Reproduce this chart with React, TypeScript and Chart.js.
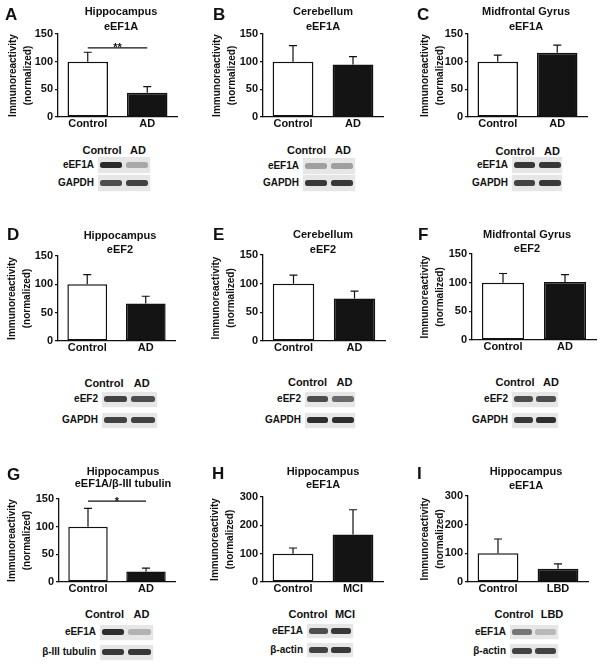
import React, { useEffect, useRef } from "react";
import { Chart, registerables } from "chart.js";

Chart.register(...registerables);

const FONT = "'Liberation Sans', Arial, Helvetica, sans-serif";
const INK = "#111111";

// ---------------- data ----------------
const panelLetters = ["A", "B", "C", "D", "E", "F", "G", "H", "I"];
const regionTitles = [
  "Hippocampus", "Cerebellum", "Midfrontal Gyrus",
  "Hippocampus", "Cerebellum", "Midfrontal Gyrus",
  "Hippocampus", "Hippocampus", "Hippocampus",
];
const markerTitles = [
  "eEF1A", "eEF1A", "eEF1A",
  "eEF2", "eEF2", "eEF2",
  "eEF1A/β-III tubulin", "eEF1A", "eEF1A",
];
const groupLabels = [
  ["Control", "AD"], ["Control", "AD"], ["Control", "AD"],
  ["Control", "AD"], ["Control", "AD"], ["Control", "AD"],
  ["Control", "AD"], ["Control", "MCI"], ["Control", "LBD"],
];
const meanValues = [
  [100, 44], [100, 95], [100, 116],
  [100, 66], [100, 74], [100, 101],
  [100, 19], [100, 168], [100, 46],
];
const errorValues = [
  [17, 11], [29, 14], [12, 14],
  [17, 13], [15, 13], [16, 13],
  [33, 6], [20, 87], [50, 17],
];
const yAxisMax = [150, 150, 150, 150, 150, 150, 150, 300, 300];
const yAxisStep = [50, 50, 50, 50, 50, 50, 50, 100, 100];
const yAxisTitle = ["Immunoreactivity", "(normalized)"];
const significanceMarks = ["**", "", "", "", "", "", "*", "", ""];
const significanceLevel = [125, 0, 0, 0, 0, 0, 146, 0, 0];
const blotRowLabels = [
  ["eEF1A", "GAPDH"], ["eEF1A", "GAPDH"], ["eEF1A", "GAPDH"],
  ["eEF2", "GAPDH"], ["eEF2", "GAPDH"], ["eEF2", "GAPDH"],
  ["eEF1A", "β-III tubulin"], ["eEF1A", "β-actin"], ["eEF1A", "β-actin"],
];
// band darkness [row][lane]
const blotBandDarkness = [
  [[0.92, 0.3], [0.75, 0.8]],
  [[0.35, 0.35], [0.85, 0.85]],
  [[0.85, 0.85], [0.8, 0.85]],
  [[0.8, 0.75], [0.8, 0.8]],
  [[0.75, 0.6], [0.9, 0.9]],
  [[0.75, 0.75], [0.85, 0.9]],
  [[0.9, 0.25], [0.85, 0.85]],
  [[0.75, 0.85], [0.8, 0.85]],
  [[0.55, 0.22], [0.8, 0.8]],
];

// ---------------- layout ----------------
type Layout = {
  col: number; row: number; w: number;
  axisX: number; axisTop: number; axisBottom: number; axisRight: number;
  titleX: number; titleY: number[]; letterX: number; letterY: number; yTitleX: number;
  blotLeft: number; blotRight: number; blotHeaderY: number; blotRows: number[]; blotHeaderX: number[]; stripH: number;
};
const layouts: Layout[] = [
  { col: 0, row: 0, w: 200, axisX: 58, axisTop: 34, axisBottom: 117, axisRight: 177, titleX: 121, titleY: [11, 26], letterX: 5, letterY: 14, yTitleX: 13, blotLeft: 98, blotRight: 150, blotHeaderY: 150, blotRows: [165, 183], blotHeaderX: [102, 138], stripH: 16 },
  { col: 200, row: 0, w: 200, axisX: 263, axisTop: 34, axisBottom: 117, axisRight: 383, titleX: 323, titleY: [11, 26], letterX: 213, letterY: 14, yTitleX: 217, blotLeft: 303, blotRight: 355, blotHeaderY: 150, blotRows: [166, 183], blotHeaderX: [306.5, 343], stripH: 16 },
  { col: 400, row: 0, w: 204, axisX: 468, axisTop: 34, axisBottom: 117, axisRight: 587, titleX: 526, titleY: [11, 26.5], letterX: 417, letterY: 14, yTitleX: 425, blotLeft: 512, blotRight: 562, blotHeaderY: 151, blotRows: [165, 183], blotHeaderX: [515, 552], stripH: 16 },
  { col: 0, row: 220, w: 200, axisX: 58, axisTop: 256, axisBottom: 341, axisRight: 175, titleX: 120, titleY: [235, 249], letterX: 7, letterY: 234, yTitleX: 12, blotLeft: 102, blotRight: 157, blotHeaderY: 383, blotRows: [399, 420], blotHeaderX: [104, 141.7], stripH: 15 },
  { col: 200, row: 220, w: 200, axisX: 263, axisTop: 255, axisBottom: 341, axisRight: 385, titleX: 323, titleY: [234, 249], letterX: 213, letterY: 234, yTitleX: 216, blotLeft: 305, blotRight: 355, blotHeaderY: 382, blotRows: [399, 420], blotHeaderX: [307.5, 344.5], stripH: 15 },
  { col: 400, row: 220, w: 204, axisX: 472, axisTop: 254, axisBottom: 340, axisRight: 596, titleX: 527, titleY: [234, 248], letterX: 418, letterY: 234, yTitleX: 425, blotLeft: 512, blotRight: 558, blotHeaderY: 382, blotRows: [399, 420], blotHeaderX: [515, 551], stripH: 15 },
  { col: 0, row: 440, w: 200, axisX: 59, axisTop: 499, axisBottom: 582, axisRight: 175, titleX: 123, titleY: [471, 483.5], letterX: 7, letterY: 474, yTitleX: 12, blotLeft: 100, blotRight: 153, blotHeaderY: 614, blotRows: [632, 652], blotHeaderX: [104.5, 141.5], stripH: 15 },
  { col: 200, row: 440, w: 200, axisX: 263, axisTop: 497, axisBottom: 582, axisRight: 383, titleX: 323, titleY: [471, 484.5], letterX: 212, letterY: 473, yTitleX: 215, blotLeft: 307, blotRight: 353, blotHeaderY: 614, blotRows: [631, 650], blotHeaderX: [308, 345], stripH: 14 },
  { col: 400, row: 440, w: 204, axisX: 468, axisTop: 496, axisBottom: 582, axisRight: 588, titleX: 526, titleY: [471, 485], letterX: 417, letterY: 473, yTitleX: 425, blotLeft: 510, blotRight: 558, blotHeaderY: 614, blotRows: [632, 651], blotHeaderX: [514, 552], stripH: 14 },
];

// ---------------- helpers ----------------
function Txt(props: { x: number; y: number; size: number; align?: "left" | "center" | "right"; children: React.ReactNode }) {
  const { x, y, size, align = "center", children } = props;
  const tx = align === "center" ? "-50%" : align === "right" ? "-100%" : "0";
  return (
    <div
      style={{
        position: "absolute",
        left: x,
        top: y - 0.49 * size,
        fontSize: size,
        lineHeight: `${size}px`,
        fontWeight: "bold",
        whiteSpace: "nowrap",
        transform: `translateX(${tx})`,
        color: INK,
      }}
    >
      {children}
    </div>
  );
}

function BarChartPanel({ idx }: { idx: number }) {
  const ref = useRef<HTMLCanvasElement>(null);
  const L = layouts[idx];
  const canvasH = L.axisBottom - L.row + 20;

  useEffect(() => {
    const canvas = ref.current;
    if (!canvas) return;
    const means = meanValues[idx];
    const errs = errorValues[idx];
    const errorBarPlugin = {
      id: "errorBars",
      afterDatasetsDraw(chart: any) {
        const ctx = chart.ctx;
        const meta = chart.getDatasetMeta(0);
        const ys = chart.scales.y;
        ctx.save();
        ctx.strokeStyle = INK;
        ctx.lineWidth = 1.2;
        meta.data.forEach((el: any, i: number) => {
          const x = el.x;
          const y0 = ys.getPixelForValue(means[i]);
          const y1 = ys.getPixelForValue(means[i] + errs[i]);
          ctx.beginPath();
          ctx.moveTo(x, y0);
          ctx.lineTo(x, y1);
          ctx.moveTo(x - 4, y1);
          ctx.lineTo(x + 4, y1);
          ctx.stroke();
        });
        const mark = significanceMarks[idx];
        if (mark) {
          const yl = ys.getPixelForValue(significanceLevel[idx]);
          const xa = meta.data[0].x;
          const xb = meta.data[1].x;
          ctx.beginPath();
          ctx.moveTo(xa, yl);
          ctx.lineTo(xb, yl);
          ctx.stroke();
          ctx.fillStyle = INK;
          ctx.font = `bold 11px ${FONT}`;
          ctx.textAlign = "center";
          ctx.textBaseline = "alphabetic";
          ctx.fillText(mark, (xa + xb) / 2, yl + 3.5);
        }
        ctx.restore();
      },
    };

    const tickFont = { family: FONT, size: 11, weight: "bold" as const };
    const chart = new Chart(canvas, {
      type: "bar",
      data: {
        labels: groupLabels[idx],
        datasets: [
          {
            data: means,
            backgroundColor: ["#ffffff", "#141414"],
            borderColor: INK,
            borderWidth: 1.5,
            borderSkipped: false,
            barPercentage: 0.68,
            categoryPercentage: 1,
          },
        ],
      },
      options: {
        responsive: false,
        animation: false,
        events: [],
        layout: {
          padding: { left: 0, top: L.axisTop - L.row, right: L.w - (L.axisRight - L.col), bottom: 0 },
        },
        plugins: { legend: { display: false }, tooltip: { enabled: false }, title: { display: false } },
        scales: {
          x: {
            grid: { display: false, drawTicks: false },
            border: { display: true, color: INK, width: 1.3 },
            ticks: { color: INK, font: tickFont, padding: 0, maxRotation: 0, autoSkip: false },
            afterFit: (s: any) => {
              s.height = canvasH - (L.axisBottom - L.row);
            },
          },
          y: {
            min: 0,
            max: yAxisMax[idx],
            ticks: { stepSize: yAxisStep[idx], color: INK, font: tickFont, padding: 2 },
            grid: { drawOnChartArea: false, drawTicks: true, tickLength: 3, color: INK, lineWidth: 1.2 },
            border: { display: true, color: INK, width: 1.3 },
            title: {
              display: true,
              text: yAxisTitle,
              color: INK,
              font: { family: FONT, size: 10, weight: "bold", lineHeight: 1.5 },
              padding: { top: L.yTitleX - L.col - 7.5, bottom: 0 },
            },
            afterFit: (s: any) => {
              s.width = L.axisX - L.col;
            },
          },
        },
      } as any,
      plugins: [errorBarPlugin],
    });
    return () => chart.destroy();
  }, [idx]);

  return (
    <canvas
      ref={ref}
      width={L.w}
      height={canvasH}
      style={{ position: "absolute", left: L.col, top: L.row, width: L.w, height: canvasH }}
    />
  );
}

function Blot({ idx }: { idx: number }) {
  const L = layouts[idx];
  const w = L.blotRight - L.blotLeft;
  const lanes = [
    [L.blotLeft + 1.5, L.blotLeft + w * 0.46],
    [L.blotLeft + w * 0.53, L.blotRight - 1.5],
  ];
  return (
    <>
      <Txt x={L.blotHeaderX[0]} y={L.blotHeaderY} size={11}>{groupLabels[idx][0]}</Txt>
      <Txt x={L.blotHeaderX[1]} y={L.blotHeaderY} size={11}>{groupLabels[idx][1]}</Txt>
      {L.blotRows.map((ry, r) => (
        <React.Fragment key={r}>
          <div
            style={{
              position: "absolute",
              left: L.blotLeft,
              top: ry - L.stripH / 2,
              width: w,
              height: L.stripH,
              background: "#e6e6e6",
              boxShadow: "0 0 1.5px 0.5px #eeeeee",
            }}
          />
          {lanes.map((ln, k) => (
            <div
              key={k}
              style={{
                position: "absolute",
                left: ln[0],
                top: ry - 3,
                width: ln[1] - ln[0],
                height: 6,
                borderRadius: 2.5,
                background: `rgba(25,25,25,${blotBandDarkness[idx][r][k]})`,
                filter: "blur(0.7px)",
              }}
            />
          ))}
          <Txt x={L.blotLeft - 4} y={ry} size={10} align="right">{blotRowLabels[idx][r]}</Txt>
        </React.Fragment>
      ))}
    </>
  );
}

function Panel({ idx }: { idx: number }) {
  const L = layouts[idx];
  return (
    <>
      <BarChartPanel idx={idx} />
      <Txt x={L.letterX} y={L.letterY} size={17} align="left">{panelLetters[idx]}</Txt>
      <Txt x={L.titleX} y={L.titleY[0]} size={11}>{regionTitles[idx]}</Txt>
      <Txt x={L.titleX} y={L.titleY[1]} size={11}>{markerTitles[idx]}</Txt>
      <Blot idx={idx} />
    </>
  );
}

export default function App() {
  return (
    <div
      style={{
        position: "absolute",
        left: 0,
        top: 0,
        width: 604,
        height: 665,
        background: "#ffffff",
        overflow: "hidden",
        fontFamily: FONT,
      }}
    >
      {layouts.map((_, i) => (
        <Panel key={i} idx={i} />
      ))}
    </div>
  );
}
